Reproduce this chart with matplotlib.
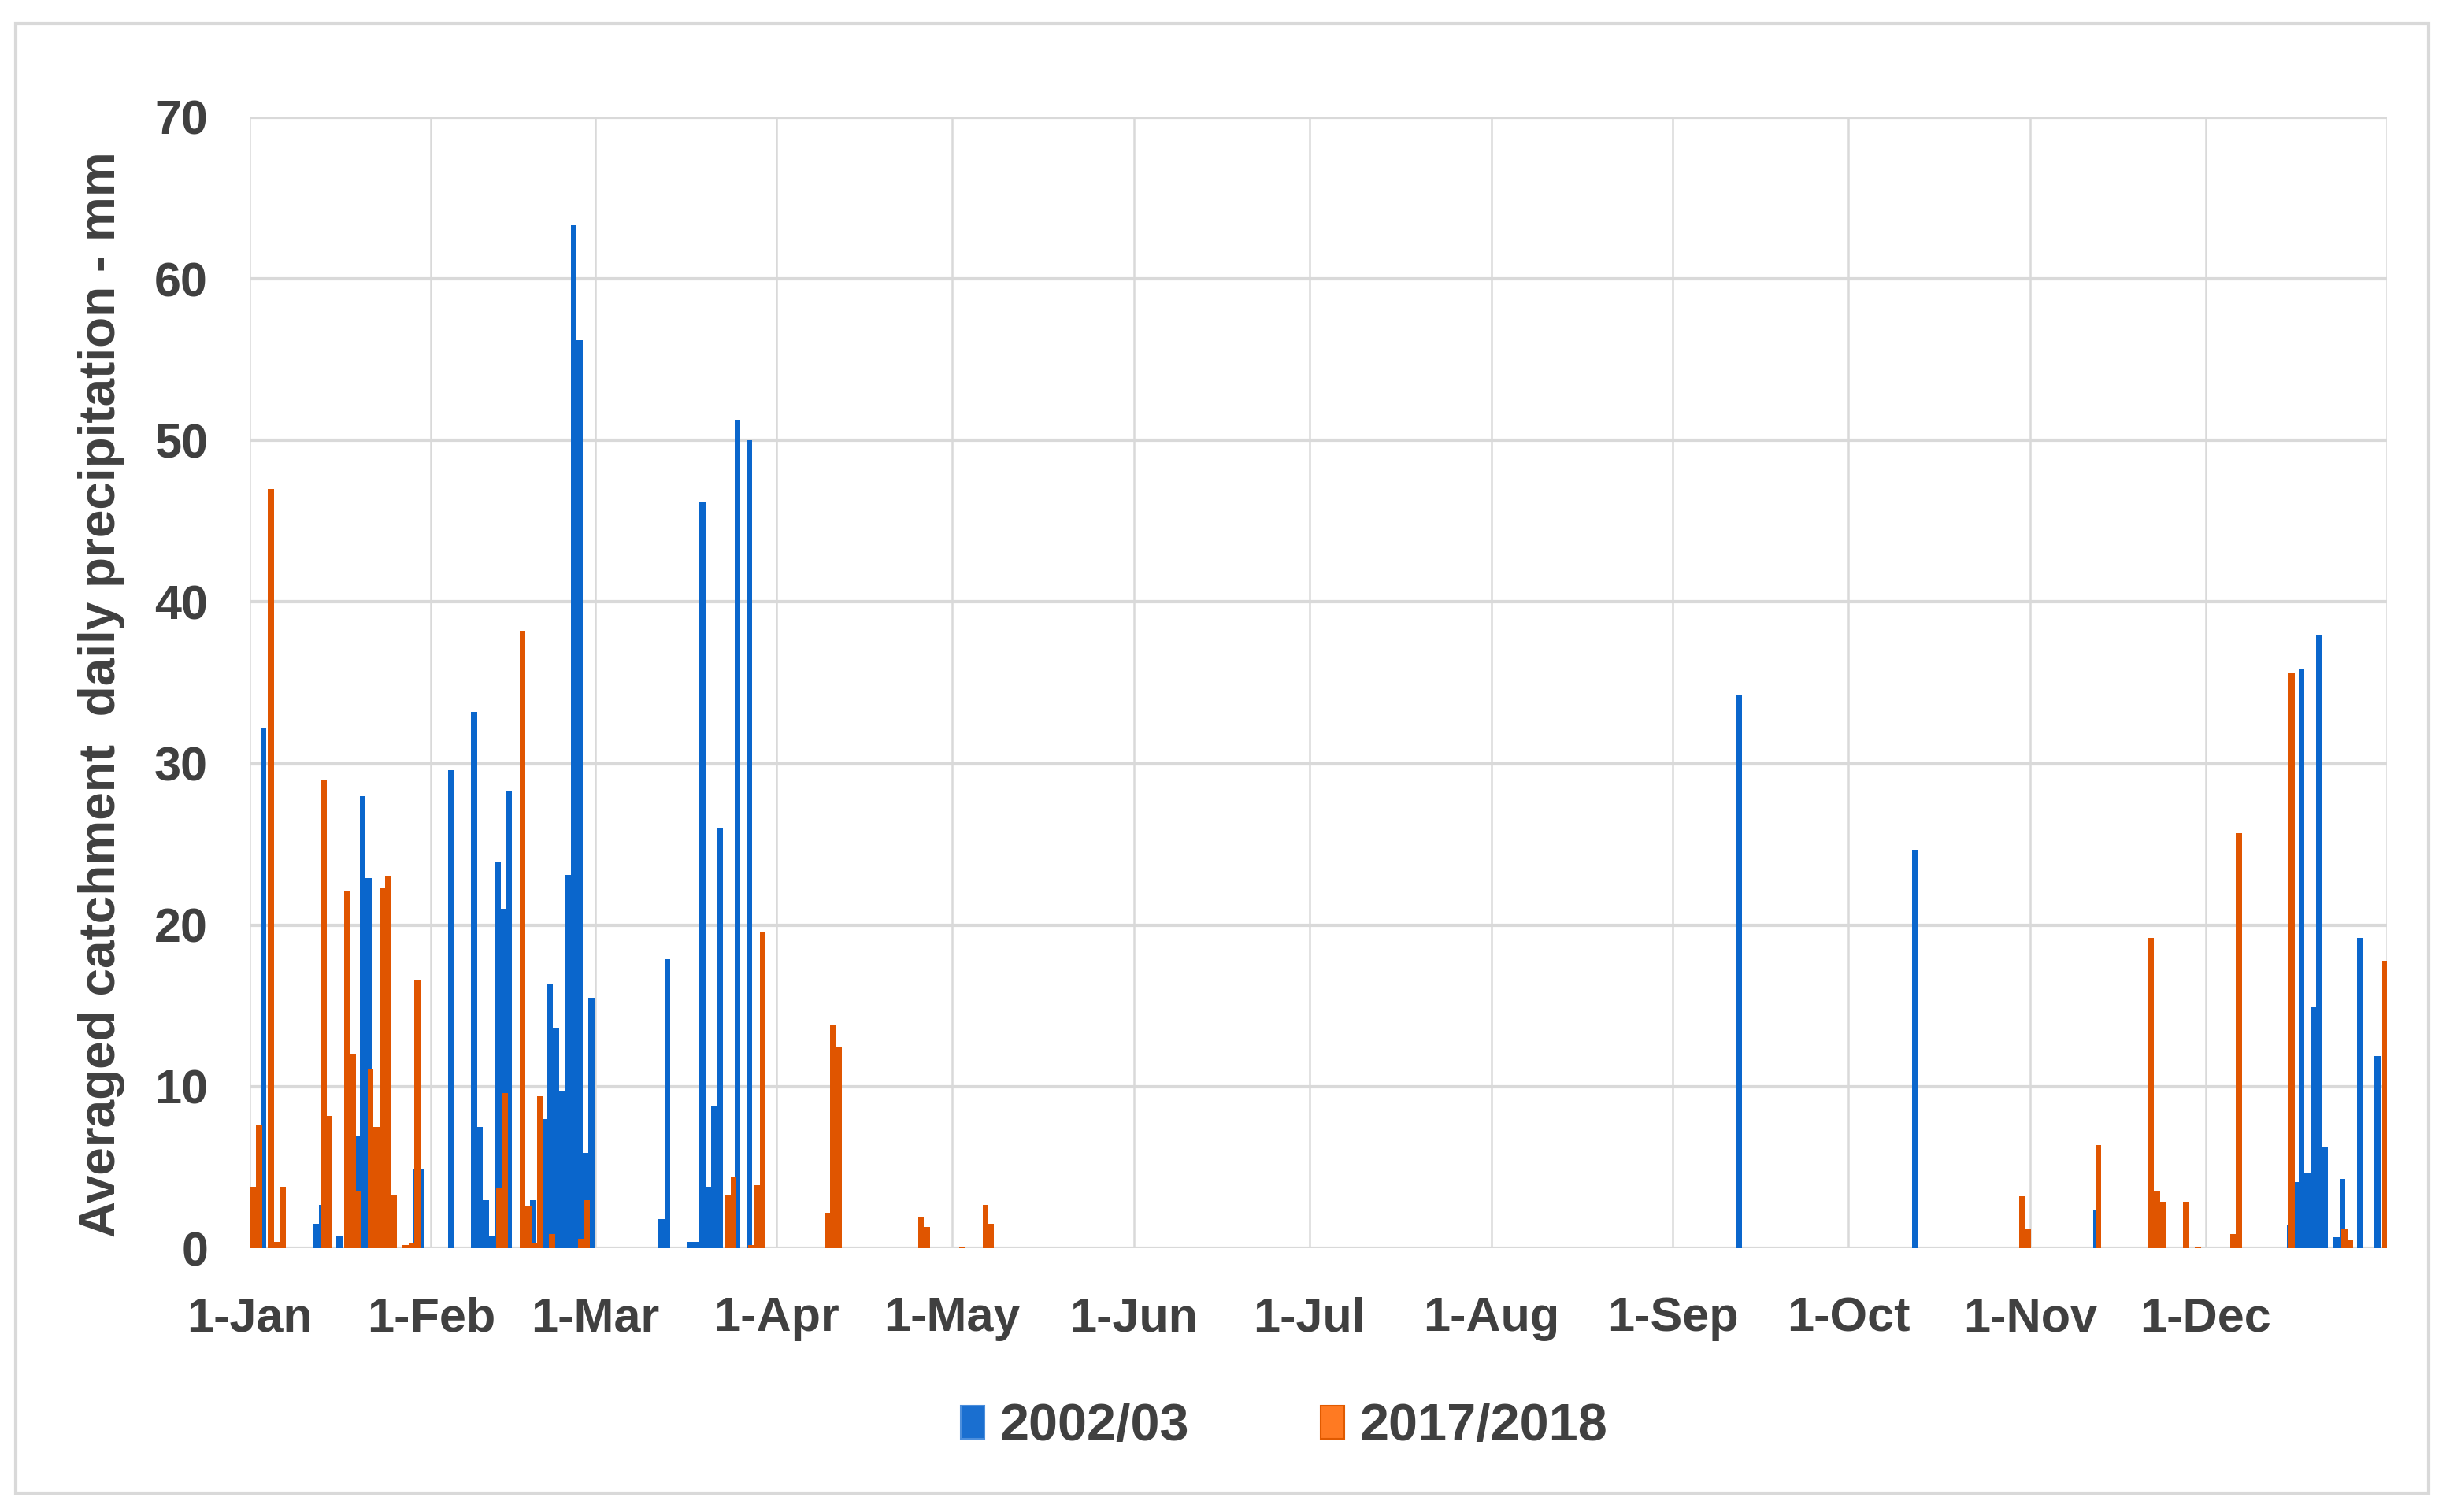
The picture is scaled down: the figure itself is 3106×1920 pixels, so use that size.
# Averaged catchment daily precipitation, 2002/03 vs 2017/2018

import numpy as np
import pandas as pd
import matplotlib
matplotlib.use('Agg')
import matplotlib.pyplot as plt
from matplotlib.patches import Patch, Rectangle

plt.rcParams['font.family'] = ['Liberation Sans', 'DejaVu Sans']
plt.rcParams['font.weight'] = 'bold'

# day of year (0 = 1-Jan) and precipitation in mm
blue_days = [2, 11, 12, 13, 15, 18, 19, 20, 28, 29, 34, 38, 39, 40, 41, 42, 43, 44,
             48, 50, 51, 52, 53, 54, 55, 56, 57, 58, 70, 71, 75, 76, 77, 78, 79, 80,
             83, 85, 254, 284, 315, 348, 349, 350, 351, 352, 353, 354, 356, 357, 360, 363]
blue_mm = [32.2, 1.5, 2.7, 4.8, 0.8, 7.0, 28.0, 22.9, 4.9, 4.9, 29.6, 33.2, 7.5, 3.0, 0.8, 23.9, 21.0, 28.3,
           3.0, 8.0, 16.4, 13.6, 9.7, 23.1, 63.3, 56.2, 5.9, 15.5, 1.8, 17.9, 0.4, 0.4, 46.2, 3.8, 8.8, 26.0,
           51.3, 50.0, 34.2, 24.6, 2.4, 1.4, 4.1, 35.9, 4.7, 14.9, 38.0, 6.3, 0.7, 4.3, 19.2, 11.9]

orange_days = [0, 1, 3, 4, 5, 12, 13, 16, 17, 18, 20, 21, 22, 23, 24, 26, 27, 28,
               42, 43, 46, 47, 48, 49, 51, 56, 57, 81, 82, 85, 86, 87, 98, 99, 100,
               114, 115, 121, 125, 126, 302, 303, 315, 324, 325, 326, 330, 332, 338, 339,
               348, 357, 358, 364]
orange_mm = [3.8, 7.6, 47.0, 0.4, 3.8, 29.0, 8.2, 22.1, 12.0, 3.5, 11.1, 7.5, 22.3, 23.0, 3.3, 0.2, 0.3, 16.6,
             3.7, 9.6, 38.2, 2.6, 0.3, 9.4, 0.9, 0.6, 3.0, 3.3, 4.4, 0.2, 3.9, 19.6, 2.2, 13.8, 12.5,
             1.9, 1.3, 0.1, 2.7, 1.5, 3.2, 1.25, 6.4, 19.2, 3.5, 2.9, 2.9, 0.1, 0.9, 25.7,
             35.6, 1.25, 0.5, 17.8]

series_labels = ['2002/03', '2017/2018']

# month starts on a non-leap year
month_starts = pd.date_range('2018-01-01', periods=12, freq='MS')
tick_pos = list(month_starts.dayofyear - 1) + [365]
tick_labels = [d.strftime('1-%b') for d in month_starts] + ['']

blue = '#0a66cc'
orange = '#e05500'
text_col = '#404040'
grid_col = '#d9d9d9'

fig = plt.figure(figsize=(31.06, 19.2), dpi=100)
ax = fig.add_axes([0.102, 0.1744, 0.874, 0.748])

ax.bar(np.array(blue_days) + 0.35, blue_mm, width=1.0, color=blue, linewidth=0)
ax.bar(np.array(orange_days) + 0.65, orange_mm, width=1.0, color=orange, linewidth=0)

ax.set_xlim(0, 365)
ax.set_ylim(0, 70)
ax.set_yticks(range(0, 71, 10))
ax.set_xticks(tick_pos)
ax.set_xticklabels(tick_labels)

ax.set_axisbelow(True)
ax.yaxis.grid(True, color=grid_col, linewidth=3)
ax.xaxis.grid(True, color=grid_col, linewidth=1.8)
for s in ax.spines.values():
    s.set_visible(False)

ax.tick_params(axis='both', length=0, labelsize=44, colors=text_col)
ax.tick_params(axis='x', pad=44)
ax.tick_params(axis='y', pad=38)

ax.set_ylabel('Averaged catchment  daily precipitation - mm', fontsize=46,
              color=text_col, fontweight='bold')
ax.yaxis.set_label_coords(-0.058, 0.49)

handles = [Patch(facecolor='#1a6fd0', edgecolor='#4d8fdc', linewidth=1.5),
           Patch(facecolor='#ff7a22', edgecolor='#e05a00', linewidth=1.5)]
fig.legend(handles, series_labels, loc='center', bbox_to_anchor=(0.525, 0.056), ncol=2,
           frameon=False, fontsize=48, handlelength=0.45, handleheight=0.6,
           handletextpad=0.3, columnspacing=2.5, labelcolor=text_col)

# light frame round the whole chart
fig.patches.append(Rectangle((0.0064, 0.0124), 0.9866, 0.972, transform=fig.transFigure,
                             fill=False, edgecolor=grid_col, linewidth=3))

fig.savefig('out.png', dpi=100, facecolor='white')
